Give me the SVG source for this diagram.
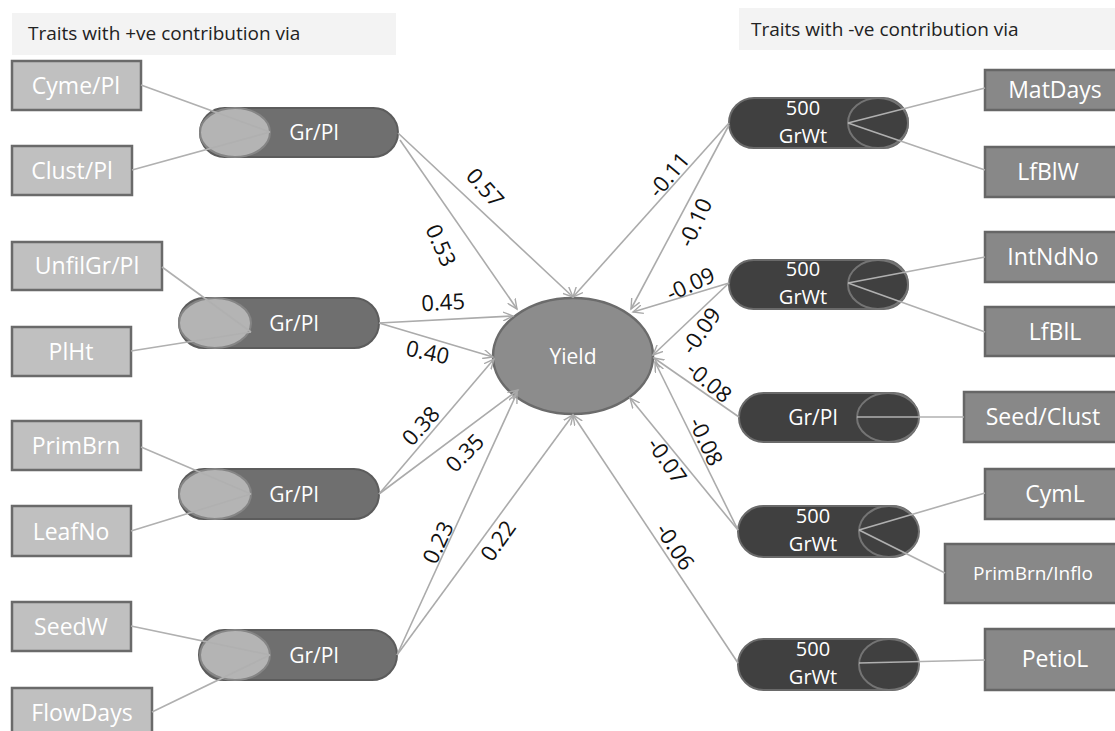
<svg xmlns="http://www.w3.org/2000/svg" width="1115" height="731" viewBox="0 0 1115 731">
  <defs>
    <marker id="arrow" markerUnits="userSpaceOnUse" markerWidth="12" markerHeight="10" refX="10" refY="5" orient="auto">
      <path d="M0,0.5 L10,5 L0,9.5" fill="none" stroke="#a8a8a8" stroke-width="1.4"/>
    </marker>
    <style>
      .title { fill: #f3f3f3; }
      .titletext { font-family: "Open Sans", "DejaVu Sans", sans-serif; font-size: 19px; fill: #222; }
      .lbox { fill: #c0c0c0; stroke: #6a6a6a; stroke-width: 2.5; }
      .rbox { fill: #888888; stroke: #666666; stroke-width: 2.5; }
      .boxtext { font-family: "Open Sans", "DejaVu Sans", sans-serif; font-size: 23px; fill: #ffffff; text-anchor: middle; }
      .lpill { fill: #6f6f6f; stroke: #5c5c5c; stroke-width: 2; }
      .lcap { fill: #b4b4b4; stroke: #858585; stroke-width: 2; }
      .rpill { fill: #404040; stroke: #6a6a6a; stroke-width: 2; }
      .rcap { fill: #404040; stroke: #747474; stroke-width: 2; }
      .pilltext { font-family: "Open Sans", "DejaVu Sans", sans-serif; font-size: 21px; fill: #ffffff; text-anchor: middle; }
      .pilltext2 { font-family: "Open Sans", "DejaVu Sans", sans-serif; font-size: 20px; fill: #ffffff; text-anchor: middle; }
      .yield { fill: #8c8c8c; stroke: #6b6b6b; stroke-width: 2.5; }
      .link { stroke: #b0b0b0; stroke-width: 1.6; fill: none; }
      .path { stroke: #ababab; stroke-width: 1.6; fill: none; marker-end: url(#arrow); }
      .coef { font-family: "Open Sans", "DejaVu Sans", sans-serif; font-size: 22px; fill: #111; text-anchor: middle; dominant-baseline: central; }
    </style>
  </defs>

  <rect width="1115" height="731" fill="#ffffff"/>

  <!-- headings -->
  <g id="heading-positive">
    <rect class="title" x="12" y="13" width="384" height="42"/>
    <text class="titletext" x="28" y="40">Traits with +ve contribution via</text>
  </g>
  <g id="heading-negative">
    <rect class="title" x="739" y="8" width="376" height="42"/>
    <text class="titletext" x="751" y="36">Traits with -ve contribution via</text>
  </g>

  <!-- positive side: trait boxes -->
  <g id="cyme-pl"><rect class="lbox" x="12" y="61" width="129" height="49"/><text class="boxtext" x="76" y="94">Cyme/Pl</text></g>
  <g id="clust-pl"><rect class="lbox" x="12" y="146" width="120" height="49"/><text class="boxtext" x="72" y="179">Clust/Pl</text></g>
  <g id="unfilgr-pl"><rect class="lbox" x="12" y="242" width="150" height="48"/><text class="boxtext" x="87" y="274">UnfilGr/Pl</text></g>
  <g id="plht"><rect class="lbox" x="12" y="327" width="119" height="49"/><text class="boxtext" x="71" y="360">PlHt</text></g>
  <g id="primbrn"><rect class="lbox" x="12" y="421" width="129" height="49"/><text class="boxtext" x="76" y="454">PrimBrn</text></g>
  <g id="leafno"><rect class="lbox" x="12" y="506" width="119" height="50"/><text class="boxtext" x="71" y="540">LeafNo</text></g>
  <g id="seedw"><rect class="lbox" x="12" y="602" width="119" height="49"/><text class="boxtext" x="71" y="635">SeedW</text></g>
  <g id="flowdays"><rect class="lbox" x="12" y="688" width="140" height="48"/><text class="boxtext" x="82" y="721">FlowDays</text></g>

  <!-- positive side: Gr/Pl mediators -->
  <g id="grpl-1"><rect class="lpill" x="200" y="108" width="198" height="49" rx="24.5"/><ellipse class="lcap" cx="235" cy="132.5" rx="35" ry="24.5"/><text class="pilltext" x="314" y="140">Gr/Pl</text></g>
  <g id="grpl-2"><rect class="lpill" x="179" y="298" width="200" height="50" rx="25"/><ellipse class="lcap" cx="215" cy="323" rx="36" ry="25"/><text class="pilltext" x="294" y="331">Gr/Pl</text></g>
  <g id="grpl-3"><rect class="lpill" x="179" y="469" width="200" height="50" rx="25"/><ellipse class="lcap" cx="215" cy="494" rx="36" ry="25"/><text class="pilltext" x="294" y="502">Gr/Pl</text></g>
  <g id="grpl-4"><rect class="lpill" x="199" y="630" width="198" height="50" rx="25"/><ellipse class="lcap" cx="235" cy="655" rx="35" ry="25"/><text class="pilltext" x="314" y="663">Gr/Pl</text></g>

  <!-- central node -->
  <g id="yield"><ellipse class="yield" cx="573" cy="356" rx="80" ry="58"/><text class="boxtext" x="573" y="364" style="font-size:21px">Yield</text></g>

  <!-- negative side: mediators -->
  <g id="grwt-1"><rect class="rpill" x="729" y="98" width="179" height="50" rx="25"/><ellipse class="rcap" cx="878" cy="123" rx="30" ry="25"/><text class="pilltext2" x="803" y="115">500</text><text class="pilltext2" x="803" y="143">GrWt</text></g>
  <g id="grwt-2"><rect class="rpill" x="729" y="260" width="179" height="49" rx="24.5"/><ellipse class="rcap" cx="878" cy="284.5" rx="30" ry="24.5"/><text class="pilltext2" x="803" y="276">500</text><text class="pilltext2" x="803" y="304">GrWt</text></g>
  <g id="grpl-5"><rect class="rpill" x="739" y="393" width="179" height="49" rx="24.5"/><ellipse class="rcap" cx="888" cy="417.5" rx="31" ry="24.5"/><text class="pilltext" x="813" y="425">Gr/Pl</text></g>
  <g id="grwt-3"><rect class="rpill" x="738" y="506" width="180" height="51" rx="25.5"/><ellipse class="rcap" cx="889" cy="531.5" rx="30" ry="25.5"/><text class="pilltext2" x="813" y="523">500</text><text class="pilltext2" x="813" y="551">GrWt</text></g>
  <g id="grwt-4"><rect class="rpill" x="738" y="639" width="180" height="51" rx="25.5"/><ellipse class="rcap" cx="889" cy="664.5" rx="30" ry="25.5"/><text class="pilltext2" x="813" y="656">500</text><text class="pilltext2" x="813" y="684">GrWt</text></g>

  <!-- negative side: trait boxes -->
  <g id="matdays"><rect class="rbox" x="985" y="70" width="135" height="40"/><text class="boxtext" x="1055" y="98">MatDays</text></g>
  <g id="lfblw"><rect class="rbox" x="985" y="147" width="135" height="50"/><text class="boxtext" x="1048" y="180">LfBlW</text></g>
  <g id="intndno"><rect class="rbox" x="985" y="232" width="135" height="50"/><text class="boxtext" x="1053" y="265">IntNdNo</text></g>
  <g id="lfbll"><rect class="rbox" x="985" y="307" width="135" height="49"/><text class="boxtext" x="1055" y="340">LfBlL</text></g>
  <g id="seed-clust"><rect class="rbox" x="964" y="392" width="156" height="50"/><text class="boxtext" x="1043" y="425">Seed/Clust</text></g>
  <g id="cyml"><rect class="rbox" x="985" y="469" width="135" height="50"/><text class="boxtext" x="1055" y="502">CymL</text></g>
  <g id="primbrn-inflo"><rect class="rbox" x="945" y="544" width="175" height="59"/><text class="boxtext" x="1033" y="580" style="font-size:19px">PrimBrn/Inflo</text></g>
  <g id="petiol"><rect class="rbox" x="985" y="629" width="135" height="61"/><text class="boxtext" x="1055" y="667">PetioL</text></g>

  <!-- connectors -->
  <g id="connectors">
    <!-- traits to mediators -->
    <line class="link" x1="141" y1="85" x2="270" y2="132"/>
    <line class="link" x1="132" y1="170" x2="270" y2="132"/>
    <line class="link" x1="162" y1="267" x2="251" y2="332"/>
    <line class="link" x1="131" y1="351" x2="251" y2="332"/>
    <line class="link" x1="141" y1="447" x2="251" y2="494"/>
    <line class="link" x1="131" y1="531" x2="251" y2="494"/>
    <line class="link" x1="131" y1="626" x2="270" y2="655"/>
    <line class="link" x1="152" y1="712" x2="270" y2="655"/>
    <line class="link" x1="985" y1="88" x2="848" y2="123"/>
    <line class="link" x1="985" y1="170" x2="848" y2="123"/>
    <line class="link" x1="985" y1="257" x2="848" y2="283"/>
    <line class="link" x1="985" y1="332" x2="848" y2="283"/>
    <line class="link" x1="964" y1="417" x2="857" y2="417"/>
    <line class="link" x1="985" y1="493" x2="859" y2="530"/>
    <line class="link" x1="945" y1="573" x2="859" y2="530"/>
    <line class="link" x1="985" y1="660" x2="859" y2="663"/>

    <!-- mediators to yield -->
    <line class="path" x1="398" y1="133" x2="573" y2="297"/>
    <line class="path" x1="400" y1="140" x2="517" y2="309"/>
    <line class="path" x1="379" y1="323" x2="513" y2="316"/>
    <line class="path" x1="379" y1="323" x2="493" y2="357"/>
    <line class="path" x1="379" y1="494" x2="494" y2="359"/>
    <line class="path" x1="379" y1="494" x2="518" y2="390"/>
    <line class="path" x1="397" y1="655" x2="517" y2="393"/>
    <line class="path" x1="397" y1="655" x2="573" y2="415"/>
    <line class="path" x1="729" y1="123" x2="573" y2="297"/>
    <line class="path" x1="729" y1="125" x2="631" y2="309"/>
    <line class="path" x1="729" y1="283" x2="633" y2="312"/>
    <line class="path" x1="729" y1="283" x2="653" y2="355"/>
    <line class="path" x1="739" y1="417" x2="654" y2="358"/>
    <line class="path" x1="738" y1="530" x2="655" y2="362"/>
    <line class="path" x1="738" y1="530" x2="630" y2="398"/>
    <line class="path" x1="738" y1="663" x2="573" y2="415"/>

    <!-- path coefficients -->
    <text class="coef" transform="translate(486,187) rotate(48)">0.57</text>
    <text class="coef" transform="translate(442,245) rotate(66)">0.53</text>
    <text class="coef" transform="translate(443,301) rotate(-3)">0.45</text>
    <text class="coef" transform="translate(428,351) rotate(12)">0.40</text>
    <text class="coef" transform="translate(420,425) rotate(-48)">0.38</text>
    <text class="coef" transform="translate(464,452) rotate(-45)">0.35</text>
    <text class="coef" transform="translate(437,542) rotate(-65)">0.23</text>
    <text class="coef" transform="translate(497,540) rotate(-55)">0.22</text>
    <text class="coef" transform="translate(668,174) rotate(-50)">-0.11</text>
    <text class="coef" transform="translate(694,222) rotate(-65)">-0.10</text>
    <text class="coef" transform="translate(690,283) rotate(-25)">-0.09</text>
    <text class="coef" transform="translate(700,330) rotate(-55)">-0.09</text>
    <text class="coef" transform="translate(710,381) rotate(40)">-0.08</text>
    <text class="coef" transform="translate(707,441) rotate(65)">-0.08</text>
    <text class="coef" transform="translate(668,460) rotate(55)">-0.07</text>
    <text class="coef" transform="translate(676,546) rotate(57)">-0.06</text>
  </g>
</svg>
